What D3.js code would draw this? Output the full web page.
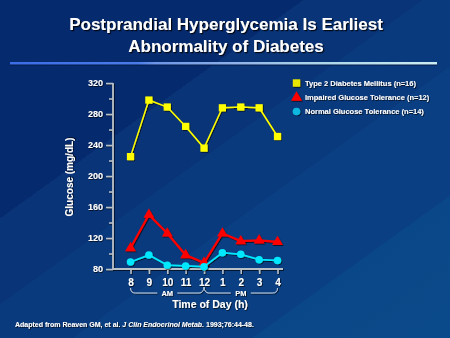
<!DOCTYPE html>
<html><head><meta charset="utf-8">
<script src="https://cdn.jsdelivr.net/npm/d3@7"></script>
<style>html,body{margin:0;padding:0;background:#062a70;}svg{display:block;}</style>
</head><body>
<svg id="c" width="450" height="338"></svg>
<script>
const hours = ["8","9","10","11","12","1","2","3","4"];
const t2dm = [225, 298, 289, 264, 236, 288, 289, 288, 251];
const igt  = [107, 150, 126, 98, 88, 126, 116, 117, 115];
const ngt  = [89, 98, 85, 84, 83, 101, 99, 92, 91];
const yMajor = [80, 120, 160, 200, 240, 280, 320];
const yMinor = [100, 140, 180, 220, 260, 300];
const seriesNames = ["Type 2 Diabetes Mellitus (n=16)", "Impaired Glucose Tolerance (n=12)", "Normal Glucose Tolerance (n=14)"];
const titleLines = ["Postprandial Hyperglycemia Is Earliest", "Abnormality of Diabetes"];

const svg = d3.select("#c");
const W = 450, H = 338;
const F = "'Liberation Sans', Arial, sans-serif";
const defs = svg.append("defs");

// background gradient with hard diagonal bands
const bandStops = [[0,"#062a6e"],[0.33,"#062a6e"],[0.33,"#08326f"],[0.33,"#093478"],[0.46,"#093478"],[0.46,"#0a3a7e"],[0.59,"#0a3a7e"],[0.59,"#0a4083"],[0.785,"#0a4083"],[0.785,"#0a4788"],[1,"#0b4a8a"]];
const bg = defs.append("linearGradient").attr("id","bg").attr("gradientUnits","userSpaceOnUse")
  .attr("x1",0).attr("y1",0).attr("x2",0.72*436).attr("y2",436);
bandStops.forEach(s=>bg.append("stop").attr("offset",s[0]).attr("stop-color",s[1]));
svg.append("rect").attr("width",W).attr("height",H).attr("fill","url(#bg)");

// shadow filter
const f = defs.append("filter").attr("id","sh").attr("x","-20%").attr("y","-20%").attr("width","150%").attr("height","150%");
f.append("feDropShadow").attr("dx",1.2).attr("dy",1.2).attr("stdDeviation",0.4).attr("flood-color","#000").attr("flood-opacity",0.85);
const f2 = defs.append("filter").attr("id","sh2").attr("x","-20%").attr("y","-20%").attr("width","150%").attr("height","150%");
f2.append("feDropShadow").attr("dx",0.8).attr("dy",0.8).attr("stdDeviation",0.2).attr("flood-color","#000").attr("flood-opacity",0.8);

// title
svg.append("text").attr("x",226).attr("y",30).attr("text-anchor","middle")
  .attr("font-family",F).attr("font-weight","bold").attr("font-size",17).attr("fill","#fff")
  .attr("filter","url(#sh)")
  .selectAll("tspan").data(titleLines).join("tspan").attr("x",226).attr("dy",(d,i)=>i?22:0).text(d=>d);

// rule
const rg = defs.append("linearGradient").attr("id","rule");
[[0,"#3b6ee6"],[0.3,"#4a7ce8"],[0.34,"#6d95e8"],[0.55,"#94b6e8"],[0.68,"#a8d2ea"],[1,"#cdeef2"]]
  .forEach(s=>rg.append("stop").attr("offset",s[0]).attr("stop-color",s[1]));
svg.append("rect").attr("x",10).attr("y",64).attr("width",427).attr("height",1.5).attr("fill","#021a4a");
svg.append("rect").attr("x",10).attr("y",62).attr("width",427).attr("height",2.5).attr("fill","url(#rule)");

// scales
const x = d3.scalePoint().domain(hours).range([130.5, 277.5]);
const y = d3.scaleLinear().domain([80, 320]).range([269, 83]);
const axisX0 = 113, axisX1 = 283;

const ax = svg.append("g").attr("filter","url(#sh2)");
const axisCol = "#b8c0c8";
// y axis
const yAxis = d3.axisLeft(y).tickValues(yMajor).tickSize(7).tickPadding(3).tickFormat(d3.format("d"));
const gy = ax.append("g").attr("transform",`translate(${axisX0},0)`).call(yAxis);
gy.select(".domain").remove();
gy.selectAll(".tick line").attr("stroke",axisCol).attr("stroke-width",1.5);
gy.selectAll(".tick text").attr("fill","#fff").attr("font-family",F).attr("font-weight","bold").attr("font-size",9);
const yAxisMinor = d3.axisLeft(y).tickValues(yMinor).tickSize(4).tickFormat("");
const gym = ax.append("g").attr("transform",`translate(${axisX0},0)`).call(yAxisMinor);
gym.select(".domain").remove();
gym.selectAll(".tick line").attr("stroke",axisCol).attr("stroke-width",1.5);
ax.append("line").attr("x1",axisX0).attr("x2",axisX0).attr("y1",y(320)).attr("y2",y(80)).attr("stroke",axisCol).attr("stroke-width",1.8);

// x axis
const xAxis = d3.axisBottom(x).tickSize(5).tickPadding(5);
const gx = ax.append("g").attr("transform",`translate(0,${y(80)})`).call(xAxis);
gx.select(".domain").remove();
gx.selectAll(".tick line").attr("stroke",axisCol).attr("stroke-width",1.5);
gx.selectAll(".tick text").attr("fill","#fff").attr("font-family",F).attr("font-weight","bold").attr("font-size",10);
ax.append("line").attr("x1",axisX0).attr("x2",axisX1).attr("y1",y(80)).attr("y2",y(80)).attr("stroke",axisCol).attr("stroke-width",1.8);

// axis titles
svg.append("text").attr("transform",`translate(73,177) rotate(-90)`).attr("text-anchor","middle")
  .attr("font-family",F).attr("font-weight","bold").attr("font-size",10).attr("fill","#fff").attr("filter","url(#sh2)")
  .text("Glucose (mg/dL)");
svg.append("text").attr("x",210).attr("y",308).attr("text-anchor","middle")
  .attr("font-family",F).attr("font-weight","bold").attr("font-size",10.5).attr("fill","#fff").attr("filter","url(#sh2)")
  .text("Time of Day (h)");

// AM / PM braces
const bY = 293;
const xs8 = x("8"), xs12 = x("12"), xs4 = x("4");
const braceCol = "#c8d4e4";
const bg2 = svg.append("g").attr("filter","url(#sh2)");
function brace(a, b, label, leftEnd, rightEnd) {
  const mid = (a+b)/2, gap = 10;
  let p = "";
  if (leftEnd === "curl") p += `M${a},${bY-5} Q${a},${bY} ${a+5},${bY} L${mid-gap},${bY}`;
  else p += `M${a},${bY-6} Q${a+0.5},${bY} ${a+5},${bY} L${mid-gap},${bY}`;
  if (rightEnd === "curl") p += ` M${mid+gap},${bY} L${b-5},${bY} Q${b},${bY} ${b},${bY-5}`;
  else p += ` M${mid+gap},${bY} L${b-5},${bY} Q${b-0.5},${bY} ${b},${bY-6}`;
  bg2.append("path").attr("d",p).attr("fill","none").attr("stroke",braceCol).attr("stroke-width",1);
  bg2.append("text").attr("x",mid).attr("y",bY+3).attr("text-anchor","middle")
    .attr("font-family",F).attr("font-weight","bold").attr("font-size",7.5).attr("fill","#fff").text(label);
}
brace(xs8, xs12, "AM", "curl", "peak");
brace(xs12, xs4, "PM", "peak", "curl");

// series
const series = [
  {vals: t2dm, color: "#ffff00", lw: 1.5, shape: "square"},
  {vals: igt, color: "#ff0000", lw: 2.2, shape: "triangle"},
  {vals: ngt, color: "#00e8ff", lw: 1.8, shape: "circle"}
];
const line = d3.line().x((d,i)=>x(hours[i])).y(d=>y(d));
const symSize = {square: 52, triangle: 50, circle: 44};
const symType = {square: d3.symbolSquare, triangle: d3.symbolTriangle, circle: d3.symbolCircle};
series.forEach(s=>{
  const g = svg.append("g").attr("filter","url(#sh2)");
  g.append("path").datum(s.vals).attr("d",line).attr("fill","none").attr("stroke",s.color).attr("stroke-width",s.lw);
  g.selectAll("path.m").data(s.vals).join("path").attr("class","m")
    .attr("transform",(d,i)=>`translate(${x(hours[i])},${y(d)})`)
    .attr("d",d3.symbol().type(symType[s.shape]).size(symSize[s.shape])).attr("fill",s.color);
});

// legend
const legCols = ["#e6e600", "#ff0000", "#10b8e0"];
const lg = svg.append("g");
seriesNames.forEach((n,i)=>{
  const cy = [83, 97.5, 111.5][i];
  lg.append("path").attr("transform",`translate(296.5,${cy})`)
    .attr("d",d3.symbol().type(symType[series[i].shape]).size(symSize[series[i].shape]*1.05))
    .attr("fill",legCols[i]).attr("filter","url(#sh2)");
  lg.append("text").attr("x",305).attr("y",cy+2.8).attr("font-family",F).attr("font-weight","bold")
    .attr("font-size",7.5).attr("fill","#fff").attr("filter","url(#sh2)").text(n);
});

// footnote
const fn = svg.append("text").attr("x",15).attr("y",327).attr("font-family",F).attr("font-weight","bold")
  .attr("font-size",7).attr("fill","#fff").attr("filter","url(#sh2)");
fn.append("tspan").text("Adapted from Reaven GM, et al. ");
fn.append("tspan").attr("font-style","italic").text("J Clin Endocrinol Metab");
fn.append("tspan").text(". 1993;76:44-48.");
</script>
</body></html>
